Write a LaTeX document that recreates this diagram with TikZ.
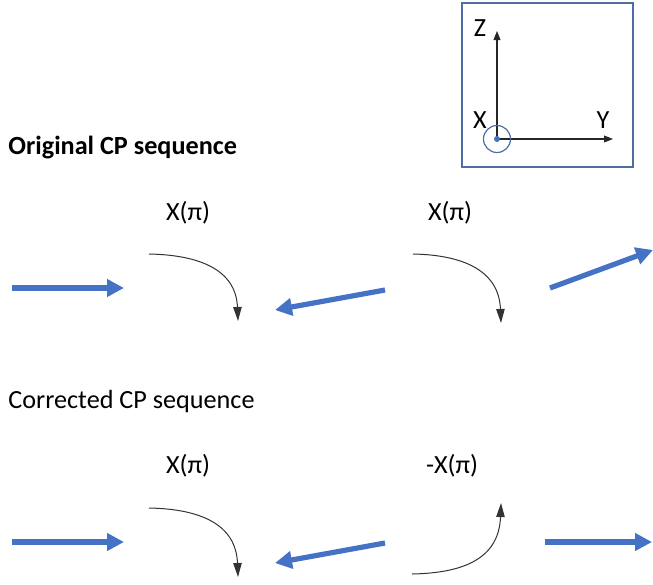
\documentclass[tikz,border=0pt]{standalone}
\usepackage{fontspec}
\setmainfont{Carlito}
\usetikzlibrary{arrows.meta, positioning}
\definecolor{vecblue}{RGB}{68,114,196}
\definecolor{framecol}{RGB}{79,108,166}
\tikzset{%
   % thick blue state vector
   vec/.style={
      draw=vecblue,
      line width=2.6pt,
      -{Triangle[length=8.5pt,width=8.5pt]}
   },
   % thin rotation arrow for a pulse
   rot/.style={
      draw=black!80,
      line width=.5pt,
      -{Triangle[length=7pt,width=4.2pt]}
   },
   axis/.style={
      draw=black!85,
      line width=.55pt,
      -{Triangle[length=4.5pt,width=3.4pt]}
   },
   lbl/.style={inner sep=0pt, font=\fontsize{13.1pt}{15pt}\selectfont}
}

\begin{document}
\begin{tikzpicture}[x=.5pt, y=-.5pt]
   \useasboundingbox (0,0) rectangle (653,584);

   % frame with the axes
   \draw[framecol, line width=.6pt] (462,3) rectangle (633,167);
   \coordinate (O) at (497,139);
   \coordinate (Zend) at (497,31);
   \coordinate (Yend) at (613,139);
   \draw[axis] (O) -- (Zend);
   \draw[axis] (O) -- (Yend);
   \node[circle, draw=framecol, line width=.6pt, minimum size=13.5pt, inner sep=0pt] (Xc) at (O) {};
   \node[circle, fill=vecblue, minimum size=3pt, inner sep=0pt] (Xdot) at (O) {};
   \node[lbl] (Zl) at (480,28) {Z};
   \node[lbl] (Xl) at (480,120) {X};
   \node[lbl] (Yl) at (603,120) {Y};

   % first sequence
   \node[lbl, font=\fontsize{13.1pt}{15pt}\selectfont\bfseries, anchor=west] (T1) at (8,148) {Original CP sequence};
   \node[lbl] (P1) at (188,213) {X(π)};
   \node[lbl] (P2) at (450,213) {X(π)};

   \coordinate (a1) at (12,288);  \coordinate (b1) at (124,288);
   \coordinate (a2) at (385,290); \coordinate (b2) at (275,310);
   \coordinate (a3) at (550,288); \coordinate (b3) at (653,250);
   \draw[vec] (a1) -- (b1);
   \draw[vec] (a2) -- (b2);
   \draw[vec] (a3) -- (b3);

   \coordinate (r1) at (149,254); \coordinate (s1) at (238,321);
   \coordinate (r2) at (413,254); \coordinate (s2) at (501,323);
   \draw[rot] (r1) .. controls (200,255) and (236,270) .. (s1);
   \draw[rot] (r2) .. controls (464,255) and (499,271) .. (s2);

   % second sequence
   \node[lbl, anchor=west] (T2) at (8,402) {Corrected CP sequence};
   \node[lbl] (P3) at (188,466) {X(π)};
   \node[lbl] (P4) at (452,466) {-X(π)};

   \coordinate (a4) at (12,542);  \coordinate (b4) at (124,542);
   \coordinate (a5) at (385,543); \coordinate (b5) at (275,563);
   \coordinate (a6) at (545,542); \coordinate (b6) at (652,542);
   \draw[vec] (a4) -- (b4);
   \draw[vec] (a5) -- (b5);
   \draw[vec] (a6) -- (b6);

   \coordinate (r3) at (149,508); \coordinate (s3) at (238,577);
   \coordinate (r4) at (412,574); \coordinate (s4) at (501,503);
   \draw[rot] (r3) .. controls (200,509) and (236,524) .. (s3);
   \draw[rot] (r4) .. controls (463,573) and (499,559) .. (s4);
\end{tikzpicture}
\end{document}
